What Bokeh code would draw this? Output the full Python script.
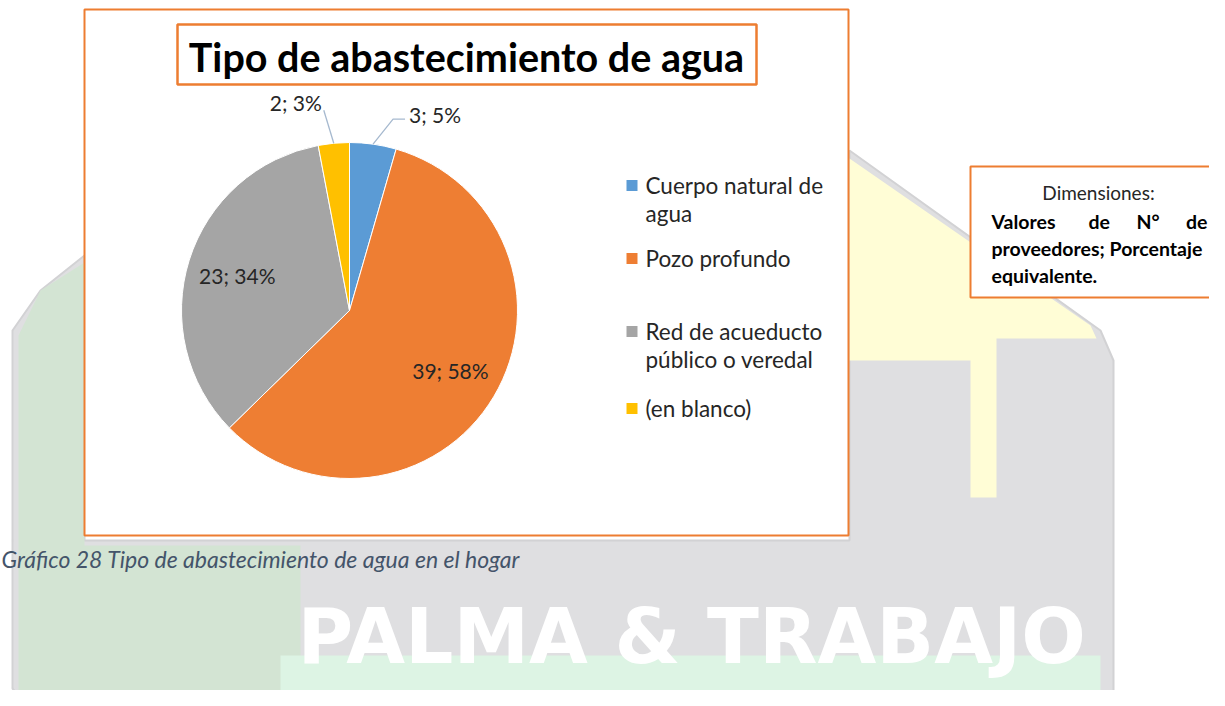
import numpy as np
from bokeh.plotting import figure
from bokeh.models import Range1d
from bokeh.core.properties import value
from bokeh.embed import file_html
from bokeh.resources import INLINE

# ---------------- data ----------------
categories = ["Cuerpo natural de agua", "Pozo profundo", "Red de acueducto público o veredal", "(en blanco)"]
counts = [3, 39, 23, 2]
percent_labels = ["5%", "58%", "34%", "3%"]
colors = ["#5B9BD5", "#EE7E33", "#A5A5A5", "#FFC000"]
legend_lines = [["Cuerpo natural de", "agua"], ["Pozo profundo"], ["Red de acueducto", "público o veredal"], ["(en blanco)"]]
title_text = "Tipo de abastecimiento de agua"
caption_text = "Gráfico 28 Tipo de abastecimiento de agua en el hogar"
dim_title = "Dimensiones:"
dim_line1 = ["Valores", "de", "N°", "de"]
dim_line2 = "proveedores; Porcentaje"
dim_line3 = "equivalente."

# ---------------- figure (data coords == picture pixels, y flipped) ----------------
W, H = 1209, 690
def Y(sy):
    return 706 - sy

p = figure(width=W, height=H, x_range=Range1d(0, W), y_range=Range1d(706 - H, 706),
           output_backend="svg", toolbar_location=None, min_border=0)
p.outline_line_color = None
p.axis.visible = False
p.grid.visible = False
p.background_fill_color = "white"

FONT = value("Lato")
ORANGE = "#ED7D31"
TXT = "#262626"

# ---------------- faded watermark background ----------------
gray_x = [849, 1100, 1113, 1113, 1100, 22, 12, 12, 40, 84, 84, 849]
gray_y = [150, 330, 360, 690, 700, 700, 688, 330, 290, 255, 540, 540]
p.patch(gray_x, [Y(v) for v in gray_y], fill_color="#DFDFE1", line_color="#D2D2D4", line_width=2)
green_x = [18, 40, 84, 84, 300, 300, 18]
green_y = [335, 290, 262, 545, 545, 690, 690]
p.patch(green_x, [Y(v) for v in green_y], fill_color="#D3E4D3", line_color=None)
yel_x = [849, 1090, 1096, 996, 996, 970, 970, 849]
yel_y = [158, 325, 338, 338, 497, 497, 360, 360]
p.patch(yel_x, [Y(v) for v in yel_y], fill_color="#FFFDD6", line_color=None)
p.quad(left=[280], right=[1100], top=[Y(655)], bottom=[Y(692)], fill_color="#DDF4E4", line_color=None)
p.text(x=[297], y=[Y(636)], text=["PALMA & TRABAJO"], text_font=value("DejaVu Sans"),
       text_font_style="bold", text_font_size="76px", text_color="white",
       text_align="left", text_baseline="middle")

# ---------------- chart box ----------------
p.quad(left=[84], right=[848], top=[Y(9)], bottom=[Y(535)], fill_color="white",
       line_color=ORANGE, line_width=2)

# title box
p.quad(left=[177], right=[756], top=[Y(24)], bottom=[Y(84)], fill_color="white",
       line_color=ORANGE, line_width=2.5)
p.text(x=[466], y=[Y(56)], text=[title_text], text_font=FONT, text_font_style="bold",
       text_font_size="39.5px", text_color="black", text_align="center", text_baseline="middle")

# ---------------- pie ----------------
cx, cy, R = 349, 310, 168
vals = np.array(counts, dtype=float)
frac = vals / vals.sum()
cum = np.concatenate([[0], np.cumsum(frac)])
start = np.pi / 2 - 2 * np.pi * cum[:-1]
end = np.pi / 2 - 2 * np.pi * cum[1:]
p.wedge(x=[cx] * len(vals), y=[Y(cy)] * len(vals), radius=R, start_angle=list(start),
        end_angle=list(end), direction="clock", fill_color=colors, line_color="white",
        line_width=1)

mid = (start + end) / 2
labels = [f"{c}; {pc}" for c, pc in zip(counts, percent_labels)]
LBL_SIZE = "21px"
# inside labels for the large slices
for i in (1, 2):
    lx = cx + 0.70 * R * np.cos(mid[i])
    ly = Y(cy) + 0.70 * R * np.sin(mid[i])
    p.text(x=[lx], y=[ly], text=[labels[i]], text_font=FONT, text_font_size=LBL_SIZE,
           text_color=TXT, text_align="center", text_baseline="middle")

# outside labels with leader lines for the small slices
leader_offsets = {0: (20, 25, 12), 3: (-10, 33, 0)}
for i, (dx, dy, hx) in leader_offsets.items():
    ex = cx + R * np.cos(mid[i])
    ey = Y(cy) + R * np.sin(mid[i])
    bx, by = ex + dx, ey + dy
    p.line([ex, bx, bx + hx], [ey, by, by], line_color="#A6B9CF", line_width=1.3)
    if hx > 0:
        p.text(x=[bx + hx + 4], y=[by + 5], text=[labels[i]], text_font=FONT,
               text_font_size=LBL_SIZE, text_color=TXT, text_align="left",
               text_baseline="middle")
    else:
        p.text(x=[bx - 2], y=[by + 8], text=[labels[i]], text_font=FONT,
               text_font_size=LBL_SIZE, text_color=TXT, text_align="right",
               text_baseline="middle")

# ---------------- legend ----------------
leg_y = [185, 258, 331, 408]
for i, lines in enumerate(legend_lines):
    p.quad(left=[626], right=[637], top=[Y(leg_y[i] - 5.5)], bottom=[Y(leg_y[i] + 5.5)],
           fill_color=colors[i], line_color=None)
    for j, t in enumerate(lines):
        p.text(x=[645], y=[Y(leg_y[i] + 28 * j)], text=[t], text_font=FONT,
               text_font_size="22.5px", text_color=TXT, text_align="left",
               text_baseline="middle")

# ---------------- dimensions box ----------------
p.quad(left=[970], right=[1230], top=[Y(166)], bottom=[Y(297)], fill_color="white",
       line_color=ORANGE, line_width=2)
p.text(x=[1098], y=[Y(192)], text=[dim_title], text_font=FONT, text_font_size="19px",
       text_color=TXT, text_align="center", text_baseline="middle")
word_x = [991, 1088, 1136, 1207]
word_align = ["left", "left", "left", "right"]
for w, wx, wa in zip(dim_line1, word_x, word_align):
    p.text(x=[wx], y=[Y(221)], text=[w], text_font=FONT, text_font_style="bold",
           text_font_size="19.5px", text_color="black", text_align=wa, text_baseline="middle")
p.text(x=[991], y=[Y(248)], text=[dim_line2], text_font=FONT, text_font_style="bold",
       text_font_size="19.5px", text_color="black", text_align="left", text_baseline="middle")
p.text(x=[991], y=[Y(275)], text=[dim_line3], text_font=FONT, text_font_style="bold",
       text_font_size="19.5px", text_color="black", text_align="left", text_baseline="middle")

# ---------------- caption ----------------
p.text(x=[1], y=[Y(558)], text=[caption_text], text_font=FONT, text_font_style="italic",
       text_font_size="23px", text_color="#44546A", text_align="left", text_baseline="middle")

open("out.html", "w").write(file_html(p, INLINE))
